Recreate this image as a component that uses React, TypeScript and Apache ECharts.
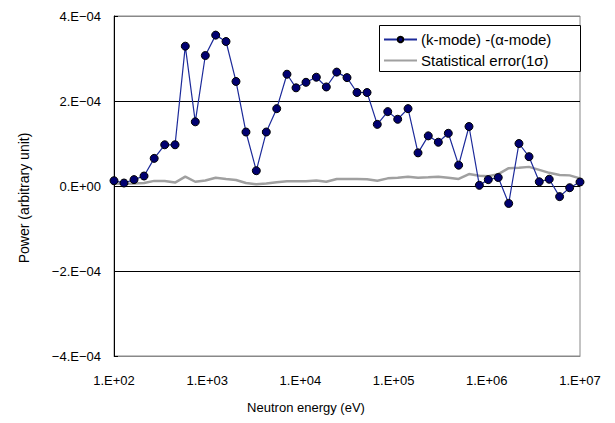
import React, { useEffect, useRef } from "react";
import * as echarts from "echarts";

const energies = [
  100, 128, 164, 210, 270, 350, 452, 582, 745, 955,
  1233, 1592, 2037, 2606, 3365, 4305, 5570, 7178, 8974, 11482,
  14825, 18967, 24547, 31623, 40458, 51880, 66834, 86497, 110662, 142889,
  182810, 235505, 301995, 386367, 498884, 644169, 831764, 1037528, 1327394, 1717908,
  2213095, 2837961, 3655948, 4677351, 6039486, 7744618, 10000000,
];

const diffValues = [
  1.25e-5, 0.7e-5, 1.5e-5, 2.35e-5, 6.5e-5, 9.7e-5, 9.7e-5, 3.29e-4, 1.51e-4, 3.07e-4,
  3.55e-4, 3.4e-4, 2.46e-4, 1.27e-4, 3.6e-5, 1.27e-4, 1.82e-4, 2.63e-4, 2.31e-4, 2.44e-4,
  2.56e-4, 2.33e-4, 2.68e-4, 2.55e-4, 2.2e-4, 2.2e-4, 1.45e-4, 1.75e-4, 1.57e-4, 1.82e-4,
  7.8e-5, 1.18e-4, 1.03e-4, 1.24e-4, 4.9e-5, 1.4e-4, 1.6e-6, 1.5e-5, 2.0e-5, -4.1e-5,
  1.0e-4, 6.9e-5, 1.0e-5, 1.6e-5, -2.5e-5, -4e-6, 9.4e-6,
];

const errorValues = [
  0.6e-5, 0.5e-5, 0.6e-5, 0.7e-5, 1.2e-5, 1.2e-5, 0.8e-5, 2.2e-5, 1.0e-5, 1.3e-5,
  1.95e-5, 1.65e-5, 1.4e-5, 0.7e-5, 0.4e-5, 0.6e-5, 0.9e-5, 1.1e-5, 1.1e-5, 1.1e-5,
  1.3e-5, 1.0e-5, 1.65e-5, 1.65e-5, 1.65e-5, 1.6e-5, 1.25e-5, 1.8e-5, 1.95e-5, 2.2e-5,
  1.95e-5, 2.05e-5, 2.2e-5, 1.95e-5, 1.65e-5, 2.8e-5, 2.4e-5, 2.3e-5, 2.8e-5, 4.2e-5,
  4.3e-5, 4.5e-5, 3.8e-5, 3.1e-5, 2.6e-5, 2.5e-5, 1.8e-5,
];

const seriesNames = ["(k-mode) -(α-mode)", "Statistical error(1σ)"];
const xAxisTitle = "Neutron energy (eV)";
const yAxisTitle = "Power (arbitrary unit)";

const FONT = "'Liberation Sans', Arial, 'Noto Sans CJK JP', sans-serif";

function pad2(n: number) {
  return n < 10 ? "0" + n : String(n);
}

function fmtY(v: number) {
  if (Math.abs(v) < 1e-12) return "0.E+00";
  const exp = Math.floor(Math.log10(Math.abs(v)) + 1e-9);
  const mant = Math.round(v / Math.pow(10, exp));
  const ms = mant < 0 ? "−" + Math.abs(mant) : String(mant);
  return `${ms}.E${exp < 0 ? "−" : "+"}${pad2(Math.abs(exp))}`;
}

function fmtX(v: number) {
  const exp = Math.round(Math.log10(v));
  return `1.E+${pad2(exp)}`;
}

export default function App() {
  const ref = useRef<HTMLDivElement>(null);
  useEffect(() => {
    document.body.style.margin = "0";
    if (!ref.current) return;
    const chart = echarts.init(ref.current, null, { renderer: "svg" });
    chart.setOption({
      animation: false,
      backgroundColor: "#fff",
      textStyle: { fontFamily: FONT },
      grid: {
        left: 114,
        right: 35,
        top: 16,
        bottom: 67,
        show: true,
        borderColor: "#888",
        borderWidth: 1,
      },
      legend: {
        left: 383,
        top: 32,
        orient: "vertical",
        padding: 0,
        itemGap: 6,
        itemWidth: 33,
        itemHeight: 7,
        z: 5,
        textStyle: { fontFamily: FONT, fontSize: 15, color: "#000", padding: [0, 0, 0, -1] },
        data: [
          { name: seriesNames[0] },
          { name: seriesNames[1], itemStyle: { opacity: 0 } },
        ],
      },
      xAxis: {
        type: "log",
        logBase: 10,
        min: 100,
        max: 1e7,
        axisLine: { onZero: false, lineStyle: { color: "#888", width: 1 } },
        axisTick: { show: false },
        minorTick: { show: false },
        splitLine: { show: false },
        axisLabel: {
          formatter: fmtX,
          margin: 18,
          fontSize: 13,
          color: "#000",
          fontFamily: FONT,
          showMinLabel: true,
          showMaxLabel: true,
        },
      },
      yAxis: {
        type: "value",
        min: -4e-4,
        max: 4e-4,
        interval: 2e-4,
        axisLine: { show: true, lineStyle: { color: "#000", width: 1 } },
        axisTick: { show: true, inside: true, length: 4, lineStyle: { color: "#000" } },
        splitLine: {
          show: true,
          lineStyle: { color: ["#888", "#000", "#000", "#000", "#888"], width: 1 },
        },
        axisLabel: {
          formatter: fmtY,
          margin: 13,
          fontSize: 13,
          color: "#000",
          fontFamily: FONT,
        },
      },
      series: [
        {
          name: seriesNames[0],
          type: "line",
          data: energies.map((e, i) => [e, diffValues[i]]),
          symbol: "circle",
          symbolSize: 8,
          z: 2,
          lineStyle: { color: "#1c2a9a", width: 1.2 },
          itemStyle: { color: "#000070", borderColor: "#000", borderWidth: 1 },
        },
        {
          name: seriesNames[1],
          type: "line",
          data: energies.map((e, i) => [e, errorValues[i]]),
          symbol: "none",
          z: 1,
          lineStyle: { color: "#a0a0a0", width: 2.5 },
          itemStyle: { color: "#a0a0a0" },
        },
      ],
      graphic: [
        {
          type: "rect",
          z: 3,
          shape: { x: 379.5, y: 25.5, width: 201, height: 46 },
          style: { fill: "#fff", stroke: "#000", lineWidth: 1 },
        },
        {
          type: "text",
          x: 306,
          y: 401,
          style: {
            text: xAxisTitle,
            fontSize: 13,
            fontFamily: FONT,
            fill: "#000",
            align: "center",
            verticalAlign: "top",
          },
        },
        {
          type: "text",
          x: 17,
          y: 198,
          rotation: Math.PI / 2,
          style: {
            text: yAxisTitle,
            fontSize: 14,
            fontFamily: FONT,
            fill: "#000",
            align: "center",
            verticalAlign: "top",
          },
        },
      ],
    });
    return () => chart.dispose();
  }, []);
  return <div ref={ref} style={{ width: 615, height: 423 }} />;
}
